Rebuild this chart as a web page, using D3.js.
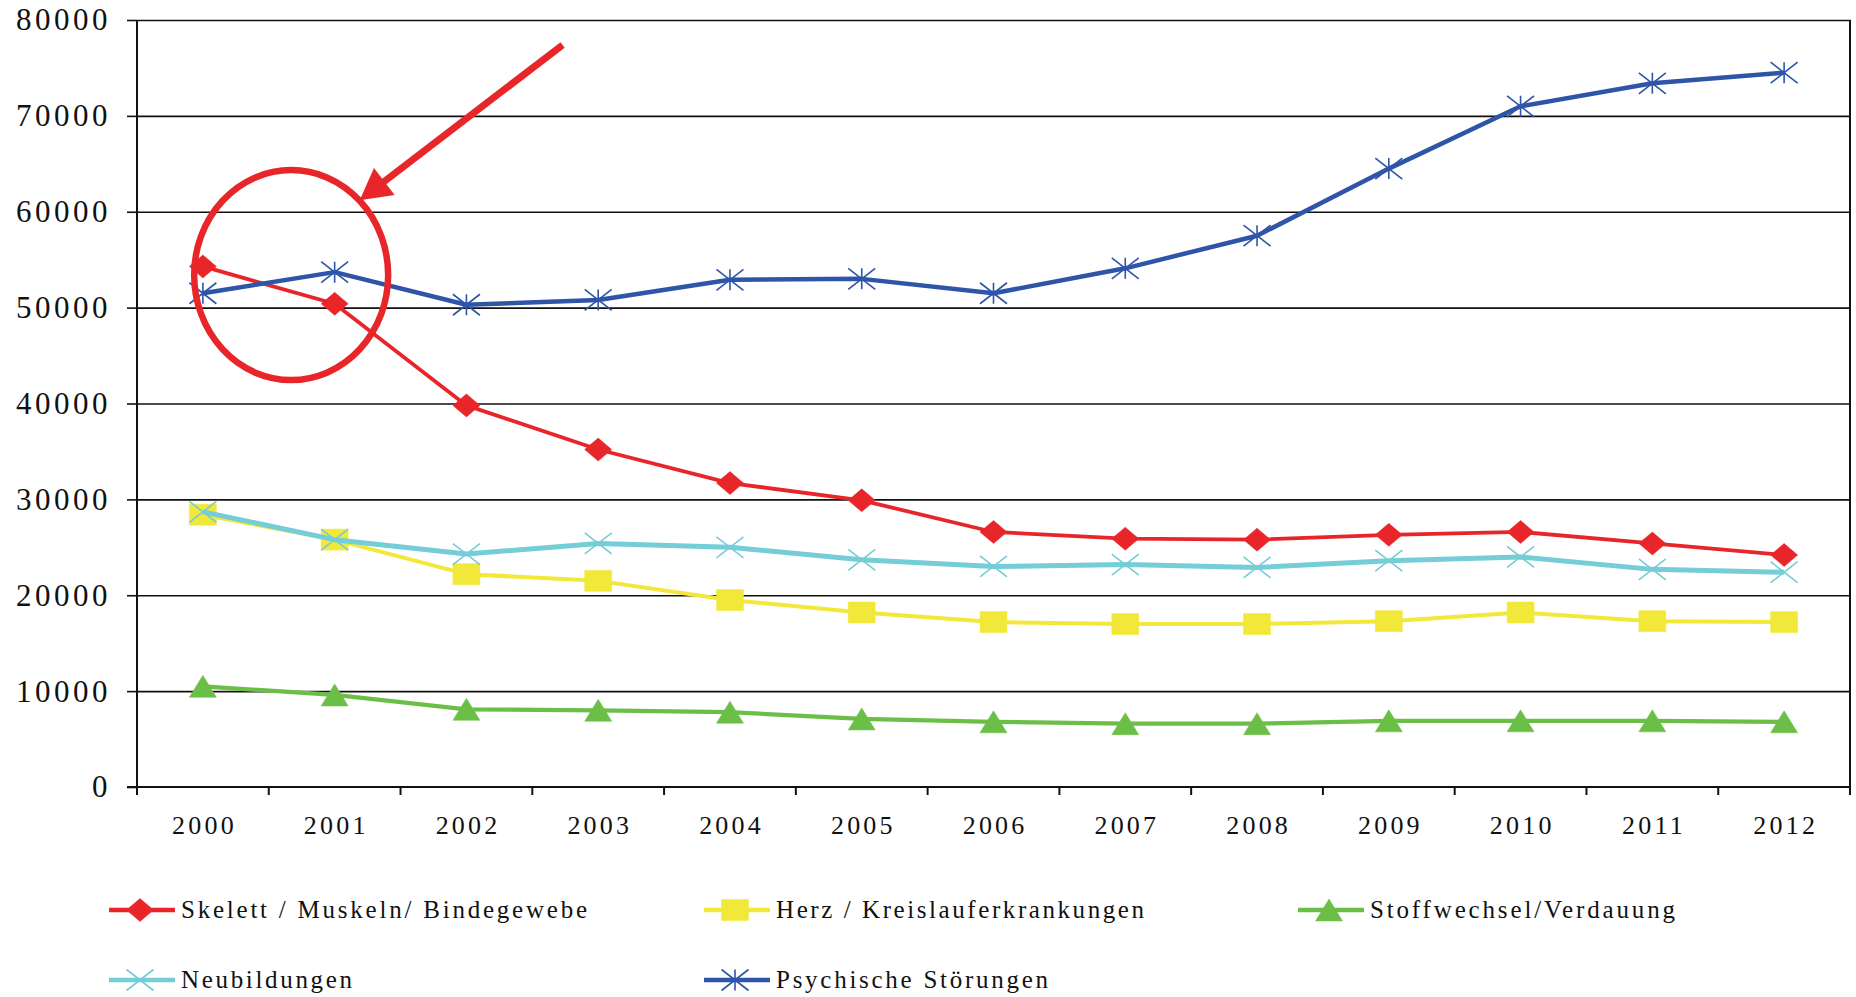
<!DOCTYPE html>
<html>
<head>
<meta charset="utf-8">
<script src="https://cdn.jsdelivr.net/npm/d3@7"></script>
<style>
  html, body { margin: 0; padding: 0; background: #fff; }
  svg { display: block; }
</style>
</head>
<body>
<svg id="chart" width="1856" height="997"></svg>
<script>
// ---------- data ----------
const years = ["2000","2001","2002","2003","2004","2005","2006","2007","2008","2009","2010","2011","2012"];
const skelett      = [54300, 50400, 39800, 35200, 31700, 29900, 26600, 25900, 25800, 26300, 26600, 25400, 24200];
const herz         = [28400, 25800, 22200, 21500, 19500, 18200, 17200, 17000, 17000, 17300, 18200, 17300, 17200];
const stoffwechsel = [10500,  9600,  8100,  8000,  7800,  7100,  6800,  6600,  6600,  6900,  6900,  6900,  6800];
const neubildungen = [28700, 25800, 24300, 25400, 25000, 23700, 23000, 23200, 22900, 23600, 24000, 22700, 22400];
const psychische   = [51500, 53700, 50300, 50800, 52900, 53000, 51500, 54100, 57500, 64500, 71000, 73400, 74500];
const seriesNames  = ["Skelett / Muskeln/ Bindegewebe", "Herz / Kreislauferkrankungen", "Stoffwechsel/Verdauung", "Neubildungen", "Psychische Störungen"];
const yTicks = [0, 10000, 20000, 30000, 40000, 50000, 60000, 70000, 80000];
// annotation anchors (in data space: fractional year index, value)
const circleAnchor = [0.67, 53400];
const arrowTail = [2.73, 77400];
const arrowTip  = [1.19, 61200];

// ---------- styles / layout ----------
const seriesStyle = [
  { color: "#E8262A", width: 3.8, marker: "diamond" },
  { color: "#F1E83A", width: 4,   marker: "square" },
  { color: "#6CBF46", width: 4.2, marker: "triangle" },
  { color: "#74CDD7", width: 5,   marker: "x" },
  { color: "#2E55A8", width: 4.5, marker: "star" }
];
const seriesData = [skelett, herz, stoffwechsel, neubildungen, psychische];

const L = 137, R = 1850, T = 20, B = 787;
const svg = d3.select("#chart");
const x = d3.scaleBand().domain(years).range([L, R]).padding(0);
const y = d3.scaleLinear().domain([0, 80000]).range([B, T]);
const xc = d => x(d) + x.bandwidth() / 2;
const xi = i => x(years[0]) + x.bandwidth() / 2 + i * x.bandwidth();
const FONT = "'Liberation Serif', 'Times New Roman', serif";

// gridlines
svg.append("g")
  .attr("transform", `translate(${L},0)`)
  .call(d3.axisRight(y).tickValues(yTicks.filter(v => v > 0)).tickSize(R - L + 1).tickFormat(""))
  .call(g => g.select(".domain").remove())
  .call(g => g.selectAll("line").attr("stroke", "#111").attr("stroke-width", 1.6));

// y axis
const yAxis = svg.append("g")
  .attr("transform", `translate(${L},0)`)
  .call(d3.axisLeft(y).tickValues(yTicks).tickSize(10).tickPadding(16).tickFormat(d3.format("d")));
yAxis.select(".domain").remove();
yAxis.selectAll("line").attr("stroke", "#111").attr("stroke-width", 1.6);
yAxis.selectAll("text")
  .attr("font-family", FONT)
  .attr("font-size", 31).attr("fill", "#111")
  .style("letter-spacing", "3.5px");

// left axis line and right border
svg.append("line").attr("x1", L).attr("x2", L).attr("y1", T).attr("y2", B + 8)
  .attr("stroke", "#111").attr("stroke-width", 2);
svg.append("line").attr("x1", R).attr("x2", R).attr("y1", T).attr("y2", B + 8)
  .attr("stroke", "#111").attr("stroke-width", 2);
// bottom axis line
svg.append("line").attr("x1", L - 10).attr("x2", R + 1).attr("y1", B).attr("y2", B)
  .attr("stroke", "#111").attr("stroke-width", 2.2);

// x ticks at band boundaries
svg.append("g").selectAll("line")
  .data(years.slice(1))
  .join("line")
  .attr("x1", d => x(d)).attr("x2", d => x(d))
  .attr("y1", B).attr("y2", B + 8)
  .attr("stroke", "#111").attr("stroke-width", 2);

// x labels
const xAxis = svg.append("g")
  .attr("transform", `translate(0,${B})`)
  .call(d3.axisBottom(x).tickSize(0).tickPadding(29));
xAxis.select(".domain").remove();
xAxis.selectAll("text")
  .attr("font-family", FONT)
  .attr("font-size", 26).attr("fill", "#111")
  .attr("dx", "1.6px")
  .style("letter-spacing", "3.2px");

// ---------- marker shapes ----------
function markerPath(type, hw, hh) {
  switch (type) {
    case "diamond":  return `M0,${-hh}L${hw},0L0,${hh}L${-hw},0Z`;
    case "square":   return `M${-hw},${-hh}H${hw}V${hh}H${-hw}Z`;
    case "triangle": return `M0,${-hh}L${hw},${hh}L${-hw},${hh}Z`;
    case "x":        return `M${-hw},${-hh}L${hw},${hh}M${hw},${-hh}L${-hw},${hh}`;
    case "star":     return `M${-hw},${-hh}L${hw},${hh}M${hw},${-hh}L${-hw},${hh}M0,${-hh}V${hh}`;
  }
}
const markerSize = {
  diamond: [13.5, 11.5], square: [13.5, 10.5], triangle: [13.5, 11],
  x: [13.5, 10.5], star: [13.5, 10.5]
};
function drawMarker(g, type, color) {
  const [hw, hh] = markerSize[type];
  const filled = type === "diamond" || type === "square" || type === "triangle";
  g.append("path")
    .attr("d", markerPath(type, hw, hh))
    .attr("fill", filled ? color : "none")
    .attr("stroke", color)
    .attr("stroke-width", filled ? 0.5 : 1.6);
}

// ---------- series ----------
const line = d3.line().x((d, i) => xc(years[i])).y(d => y(d));
seriesData.forEach((vals, si) => {
  const st = seriesStyle[si];
  const g = svg.append("g");
  g.append("path").attr("d", line(vals))
    .attr("fill", "none").attr("stroke", st.color)
    .attr("stroke-width", st.width).attr("stroke-linejoin", "round");
  vals.forEach((v, i) => {
    const mg = g.append("g").attr("transform", `translate(${xc(years[i])},${y(v)})`);
    drawMarker(mg, st.marker, st.color);
  });
});

// ---------- annotation ----------
const annColor = "#E8262A";
svg.append("ellipse")
  .attr("cx", xi(circleAnchor[0])).attr("cy", y(circleAnchor[1]))
  .attr("rx", 97).attr("ry", 105)
  .attr("fill", "none").attr("stroke", annColor).attr("stroke-width", 6.5);
{
  const tx = xi(arrowTail[0]), ty = y(arrowTail[1]);
  const px = xi(arrowTip[0]), py = y(arrowTip[1]);
  const dx = px - tx, dy = py - ty, len = Math.hypot(dx, dy);
  const ux = dx / len, uy = dy / len;
  const headLen = 31, headHalf = 17;
  const bx = px - ux * headLen, by = py - uy * headLen;
  svg.append("line")
    .attr("x1", tx).attr("y1", ty).attr("x2", bx + ux * 3).attr("y2", by + uy * 3)
    .attr("stroke", annColor).attr("stroke-width", 7);
  svg.append("path")
    .attr("d", `M${px},${py}L${bx - uy * headHalf},${by + ux * headHalf}L${bx + uy * headHalf},${by - ux * headHalf}Z`)
    .attr("fill", annColor);
}

// ---------- legend ----------
const legendPos = [[109, 910], [704, 910], [1298, 910], [109, 980], [704, 980]];
const legendTextLen = [406, 368, 305, 171, 272];
seriesNames.forEach((name, si) => {
  const st = seriesStyle[si];
  const [lx, ly] = legendPos[si];
  const g = svg.append("g").attr("transform", `translate(${lx},${ly})`);
  g.append("line").attr("x1", 0).attr("x2", 66).attr("y1", 0).attr("y2", 0)
    .attr("stroke", st.color).attr("stroke-width", 4.5);
  const mg = g.append("g").attr("transform", "translate(31,0)");
  drawMarker(mg, st.marker, st.color);
  g.append("text")
    .attr("x", 72).attr("y", 8)
    .attr("font-family", FONT)
    .attr("font-size", 25).attr("fill", "#111")
    .attr("textLength", legendTextLen[si]).attr("lengthAdjust", "spacing")
    .text(name);
});
</script>
</body>
</html>
